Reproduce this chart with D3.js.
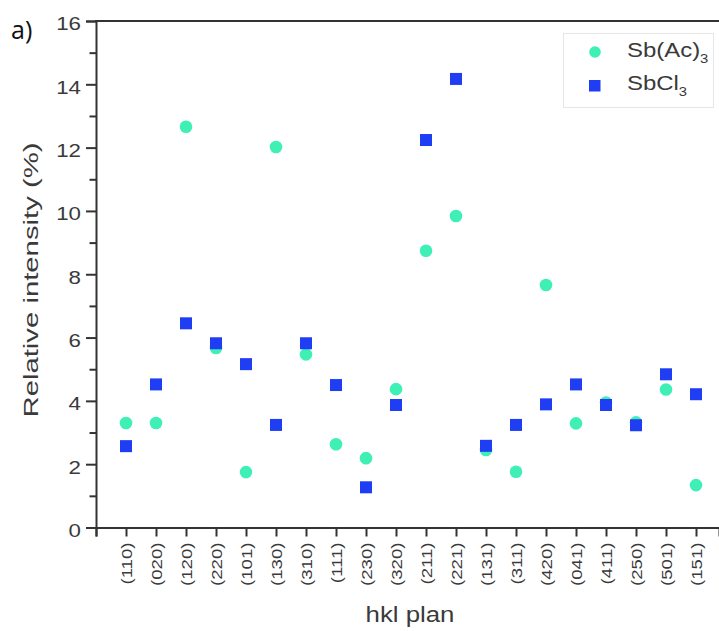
<!DOCTYPE html>
<html>
<head>
<meta charset="utf-8">
<script src="https://cdn.jsdelivr.net/npm/d3@7"></script>
<style>
  html, body { margin: 0; padding: 0; background: #fff; }
  svg { display: block; font-family: "Liberation Sans", Arial, sans-serif; }
</style>
</head>
<body>
<svg id="chart" width="719" height="631"></svg>
<script>
// hkl reflection planes
const planes = ["(110)", "(020)", "(120)", "(220)", "(101)", "(130)", "(310)", "(111)", "(230)", "(320)",
                "(211)", "(221)", "(131)", "(311)", "(420)", "(041)", "(411)", "(250)", "(501)", "(151)"];

// Relative intensity (%) per plane
const sbAc = [3.3, 3.3, 12.66, 5.67, 1.75, 12.02, 5.47, 2.63, 2.19, 4.37,
              8.74, 9.84, 2.45, 1.76, 7.66, 3.29, 3.95, 3.32, 4.36, 1.34];
const sbCl = [2.57, 4.52, 6.45, 5.82, 5.16, 3.24, 5.82, 4.5, 1.27, 3.87,
              12.24, 14.17, 2.58, 3.24, 3.89, 4.52, 3.87, 3.23, 4.84, 4.21];

const yTicks = [0, 2, 4, 6, 8, 10, 12, 14, 16];
const yMinor = [1, 3, 5, 7, 9, 11, 13, 15];

const svg = d3.select("#chart");
const plotLeft = 96, plotRight = 719, plotTop = 21, plotBottom = 527.5;
const axisColor = "#333";
const textColor = "#3a3a3a";
const wide = 1.2; // horizontal stretch applied to the labels

// Widen text along its reading direction
function stretch(sel, k) {
  sel.each(function () {
    const len = this.getComputedTextLength();
    d3.select(this).attr("textLength", len * k).attr("lengthAdjust", "spacingAndGlyphs");
  });
}

const x = d3.scaleLinear().domain([0, (plotRight - plotLeft) / 30]).range([plotLeft, plotRight]);
const y = d3.scaleLinear().domain([0, 16]).range([plotBottom, plotTop]);

// Y axis: major ticks with labels, minor ticks without
const yAxis = svg.append("g").attr("transform", `translate(${plotLeft},0)`)
  .call(d3.axisLeft(y).tickValues(yTicks).tickSize(10).tickPadding(5).tickFormat(d3.format("d")));
svg.append("g").attr("transform", `translate(${plotLeft},0)`)
  .call(d3.axisLeft(y).tickValues(yMinor).tickSize(6.5).tickFormat(""))
  .call(g => g.select(".domain").remove());

// X axis: one tick per plane plus the origin
const xAxis = svg.append("g").attr("transform", `translate(0,${plotBottom})`)
  .call(d3.axisBottom(x).tickValues(d3.range(0, planes.length + 1)).tickSize(9)
    .tickFormat(i => i === 0 ? "" : planes[i - 1]));

svg.selectAll(".domain").attr("stroke", axisColor).attr("stroke-width", 2);
svg.selectAll(".tick line").attr("stroke", axisColor).attr("stroke-width", 2);
yAxis.selectAll("text").attr("font-size", 18.6).attr("fill", textColor)
  .attr("font-family", "Liberation Sans, Arial, sans-serif")
  .attr("dy", "0.48em")
  .call(stretch, wide);
xAxis.selectAll("text")
  .attr("font-size", 15.5).attr("fill", textColor)
  .attr("font-family", "Liberation Sans, Arial, sans-serif")
  .attr("transform", "rotate(-90)")
  .attr("text-anchor", "end")
  .attr("x", -15).attr("y", 0).attr("dy", "0.36em")
  .call(stretch, wide);

// Top frame line
svg.append("line").attr("x1", plotLeft - 1).attr("x2", plotRight).attr("y1", plotTop).attr("y2", plotTop)
  .attr("stroke", axisColor).attr("stroke-width", 2);

// Axis titles
svg.append("text").attr("x", 410).attr("y", 622).attr("text-anchor", "middle")
  .attr("font-size", 21.5).attr("fill", textColor).text("hkl plan")
  .call(stretch, wide);
svg.append("text").attr("transform", `translate(38,280) rotate(-90)`)
  .attr("text-anchor", "middle").attr("font-size", 20.5).attr("fill", textColor)
  .text("Relative intensity (%)")
  .attr("textLength", 275).attr("lengthAdjust", "spacingAndGlyphs");

// Panel label
svg.append("text").attr("x", 11).attr("y", 39).attr("font-size", 25)
  .attr("font-family", "Open Sans, sans-serif").attr("fill", "#111").text("a)");

const green = "#3ff0b6", blue = "#1f3df2";

// Sb(Ac)3 series
svg.append("g").selectAll("circle").data(sbAc).join("circle")
  .attr("cx", (d, i) => x(i + 1)).attr("cy", d => y(d)).attr("r", 6.3).attr("fill", green);

// SbCl3 series
const sq = 12;
svg.append("g").selectAll("rect").data(sbCl).join("rect")
  .attr("x", (d, i) => x(i + 1) - sq / 2).attr("y", d => y(d) - sq / 2)
  .attr("width", sq).attr("height", sq).attr("fill", blue);

// Legend
const lg = svg.append("g");
lg.append("rect").attr("x", 563.5).attr("y", 33.5).attr("width", 150).attr("height", 74)
  .attr("fill", "#fff").attr("stroke", "#e6e6e6").attr("stroke-width", 1);
lg.append("circle").attr("cx", 595).attr("cy", 52).attr("r", 5.8).attr("fill", green);
lg.append("rect").attr("x", 589).attr("y", 80).attr("width", 11.5).attr("height", 11.5).attr("fill", blue);

function legendLabel(yb, main) {
  const g = lg.append("g").attr("transform", `translate(627,${yb}) scale(1.14,1)`);
  const t = g.append("text").attr("font-size", 21).attr("fill", textColor);
  t.append("tspan").text(main);
  t.append("tspan").attr("font-size", 13).attr("dy", 6).text("3");
}
legendLabel(56.5, "Sb(Ac)");
legendLabel(90, "SbCl");
</script>
</body>
</html>
